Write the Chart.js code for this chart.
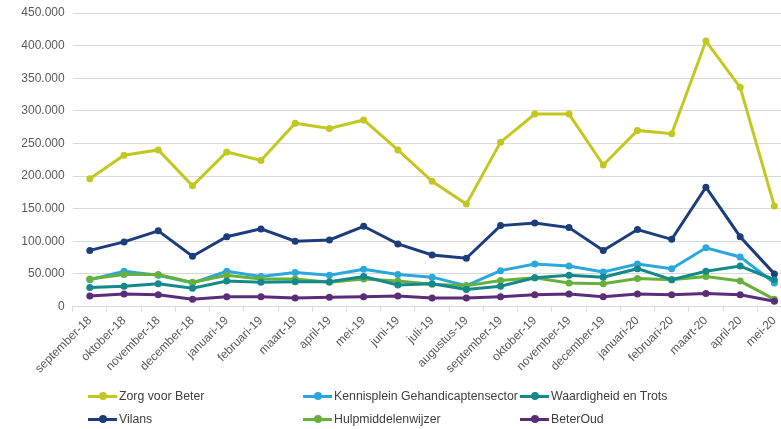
<!DOCTYPE html>
<html>
<head>
<meta charset="utf-8">
<script src="https://cdn.jsdelivr.net/npm/chart.js@4.4.0/dist/chart.umd.min.js"></script>
<style>
  html, body { margin: 0; padding: 0; background: #fff; overflow: hidden; }
  #wrap { position: relative; width: 781px; height: 429px; overflow: hidden; }
  #box { position: absolute; left: 0; top: 0; width: 795px; height: 380px; }
  #legend { position: absolute; left: 0; top: 0; width: 781px; height: 429px; pointer-events: none; }
  .li { position: absolute; display: flex; align-items: center; font-family: "Liberation Sans", Arial, sans-serif; font-size: 12.3px; color: #404040; white-space: nowrap; }
  .mk { position: relative; width: 29px; height: 10px; margin-right: 2px; }
  .mk .ln { position: absolute; left: 0; right: 0; top: 3.5px; height: 3px; }
  .mk .dt { position: absolute; left: 10.5px; top: 1px; width: 8px; height: 8px; border-radius: 50%; }
</style>
</head>
<body>
<div id="wrap">
  <div id="box"><canvas id="c"></canvas></div>
  <div id="legend"></div>
</div>
<script>
const months = ['september-18','oktober-18','november-18','december-18','januari-19','februari-19','maart-19','april-19','mei-19','juni-19','juli-19','augustus-19','september-19','oktober-19','november-19','december-19','januari-20','februari-20','maart-20','april-20','mei-20'];

const zorgVoorBeter = [196000,232000,240000,185000,237000,224000,281000,273000,286000,240000,192000,157000,252000,295000,295000,217000,270000,265000,407000,336000,154000];
const vilans = [86000,99000,116000,77000,107000,119000,100000,102000,123000,96000,79000,74000,124000,128000,121000,86000,118000,103000,183000,107000,50000];
const kennisplein = [41000,54000,48000,36000,54000,46000,52000,48000,57000,49000,45000,32000,55000,65000,62000,53000,65000,58000,90000,76000,36000];
const hulpmiddelenwijzer = [42000,49000,49000,37000,48000,42000,42000,37000,42000,39000,34000,32000,40000,44000,36000,35000,43000,41000,46000,39000,11000];
const waardigheid = [29000,31000,35000,28000,39000,37000,38000,38000,46000,33000,35000,26000,31000,44000,48000,45000,58000,41000,54000,62000,41000];
const beterOud = [16000,19000,18000,11000,15000,15000,13000,14000,15000,16000,13000,13000,15000,18000,19000,15000,19000,18000,20000,18000,8000];

const seriesNames = ['Zorg voor Beter','Vilans','Kennisplein Gehandicaptensector','Hulpmiddelenwijzer','Waardigheid en Trots','BeterOud'];
const seriesData = [zorgVoorBeter, vilans, kennisplein, hulpmiddelenwijzer, waardigheid, beterOud];
const seriesColors = ['#c2c820','#1b3d7b','#2aa7dc','#67b03a','#14898b','#5b2c78'];

const yMax = 450000, yStep = 50000;

function fmt(v) {
  if (v === 0) return '0';
  const s = String(Math.round(v));
  return s.replace(/\B(?=(\d{3})+(?!\d))/g, '.');
}

const datasets = seriesNames.map((name, i) => ({
  label: name,
  data: seriesData[i],
  borderColor: seriesColors[i],
  backgroundColor: seriesColors[i],
  borderWidth: 3,
  pointRadius: 3.5,
  pointHoverRadius: 3.5,
  pointBorderWidth: 0,
  tension: 0,
  fill: false,
  order: seriesNames.length - i
}));

const tickFont = { family: '"Liberation Sans", Arial, sans-serif', size: 12 };

const chart = new Chart(document.getElementById('c'), {
  type: 'line',
  data: { labels: months, datasets },
  options: {
    responsive: true,
    maintainAspectRatio: false,
    animation: false,
    layout: { padding: { top: 13, right: 0, left: 0, bottom: 0 } },
    plugins: { legend: { display: false }, tooltip: { enabled: false } },
    scales: {
      x: {
        offset: true,
        grid: { display: true, offset: true, drawOnChartArea: false, drawTicks: true, tickLength: 5, color: '#d9d9d9' },
        border: { display: true, color: '#d9d9d9', width: 1 },
        ticks: { font: tickFont, color: '#595959', minRotation: 45, maxRotation: 45, autoSkip: false, padding: 2 },
        afterFit: (s) => { s.height = 73.5; }
      },
      y: {
        min: 0, max: yMax,
        grid: { color: '#d9d9d9', lineWidth: 1, drawTicks: false },
        border: { display: false },
        ticks: { stepSize: yStep, font: { family: tickFont.family, size: 12, lineHeight: 0.6 }, color: '#595959', padding: 8, callback: (v) => fmt(v) },
        afterFit: (s) => { s.width = 72.7; s.paddingTop = 0; }
      }
    }
  }
});

const legendOrder = [0, 2, 4, 1, 3, 5];
const cols = [88, 303, 520];
const rows = [397, 420];
const lg = document.getElementById('legend');
legendOrder.forEach((idx, k) => {
  const ds = chart.data.datasets[idx];
  const el = document.createElement('div');
  el.className = 'li';
  el.style.left = cols[k % 3] + 'px';
  el.style.top = (rows[Math.floor(k / 3)] - 8) + 'px';
  el.innerHTML = '<span class="mk"><span class="ln" style="background:' + ds.borderColor + '"></span><span class="dt" style="background:' + ds.borderColor + '"></span></span>';
  const t = document.createElement('span');
  t.textContent = ds.label;
  el.appendChild(t);
  lg.appendChild(el);
});
</script>
</body>
</html>
